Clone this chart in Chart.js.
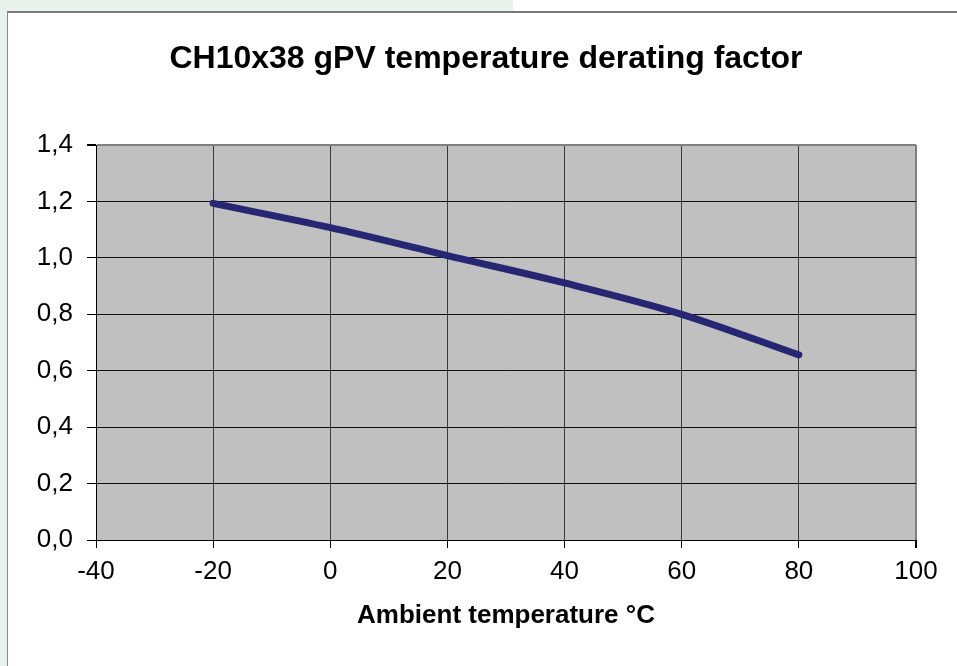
<!DOCTYPE html>
<html>
<head>
<meta charset="utf-8">
<script src="https://cdn.jsdelivr.net/npm/chart.js@4"></script>
<style>
  html, body { margin: 0; padding: 0; background: #e8f2ea; }
  #wrap { position: absolute; left: 0; top: 0; width: 957px; height: 666px; }
</style>
</head>
<body>
<div id="wrap"><canvas id="chart" width="957" height="666"></canvas></div>
<script>
// values
const temperatures = [-20, 0, 20, 40, 60, 80];
const deratingFactors = [1.193, 1.107, 1.008, 0.911, 0.800, 0.656];
const xTicks = [-40, -20, 0, 20, 40, 60, 80, 100];
const yTicks = [0, 0.2, 0.4, 0.6, 0.8, 1.0, 1.2, 1.4];

const FONT = "'Liberation Sans', Arial, sans-serif";

// page frame + gray plot background
const framePlugin = {
  id: 'frame',
  afterLayout(chart) {
    // title is centred on the whole sheet, not on the padded box
    if (chart.titleBlock) chart.titleBlock.left += 26;
  },
  beforeDraw(chart) {
    const { ctx, width, height, chartArea } = chart;
    ctx.save();
    ctx.fillStyle = '#ffffff';
    ctx.fillRect(0, 0, width, height);
    ctx.fillStyle = '#e8f2ea';
    ctx.fillRect(0, 0, 513, 11);
    ctx.fillRect(0, 0, 7, height);
    ctx.strokeStyle = '#7a7a7a';
    ctx.lineWidth = 2;
    ctx.beginPath();
    ctx.moveTo(7, 12);
    ctx.lineTo(width, 12);
    ctx.stroke();
    ctx.strokeStyle = '#8a8a8a';
    ctx.lineWidth = 1;
    ctx.beginPath();
    ctx.moveTo(7.5, 12);
    ctx.lineTo(7.5, height);
    ctx.stroke();
    ctx.fillStyle = '#c0c0c0';
    ctx.fillRect(chartArea.left, chartArea.top, chartArea.right - chartArea.left, chartArea.bottom - chartArea.top);
    ctx.restore();
  }
};

new Chart(document.getElementById('chart').getContext('2d'), {
  type: 'scatter',
  data: {
    datasets: [{
      data: temperatures.map((t, i) => ({ x: t, y: deratingFactors[i] })),
      showLine: true,
      borderColor: '#262673',
      borderWidth: 7,
      borderCapStyle: 'round',
      pointRadius: 0,
      cubicInterpolationMode: 'monotone',
      fill: false
    }]
  },
  options: {
    responsive: false,
    animation: false,
    layout: { padding: { left: 30, right: 41, top: 0, bottom: 0 } },
    plugins: {
      legend: { display: false },
      tooltip: { enabled: false },
      title: {
        display: true,
        text: 'CH10x38 gPV temperature derating factor',
        color: '#000',
        font: { family: FONT, size: 32, weight: 'bold' },
        padding: { top: 40, bottom: 66.6 }
      }
    },
    scales: {
      x: {
        type: 'linear',
        min: -40,
        max: 100,
        afterFit: s => { s.height = 126; },
        afterBuildTicks: s => { s.ticks = xTicks.map(v => ({ value: v })); },
        ticks: {
          color: '#000',
          padding: 8,
          maxRotation: 0,
          font: { family: FONT, size: 26 },
          callback: v => String(v)
        },
        grid: {
          color: c => c.tick && c.tick.value === 100 ? '#808080' : '#3a3a3a',
          lineWidth: c => c.tick && c.tick.value === 100 ? 2 : 1,
          tickColor: '#000',
          tickLength: 8
        },
        border: { display: true, color: '#000', width: 1 },
        title: {
          display: true,
          text: 'Ambient temperature °C',
          color: '#000',
          font: { family: FONT, size: 26, weight: 'bold' },
          padding: { top: 0, bottom: 34.4 }
        }
      },
      y: {
        type: 'linear',
        min: 0,
        max: 1.4,
        afterFit: s => { s.width = 66; },
        afterBuildTicks: s => { s.ticks = yTicks.map(v => ({ value: v })); },
        ticks: {
          color: '#000',
          padding: 14,
          font: { family: FONT, size: 26 },
          callback: v => Number(v).toFixed(1).replace('.', ',')
        },
        grid: {
          color: c => c.tick && Math.abs(c.tick.value - 1.4) < 1e-6 ? '#808080' : '#111',
          lineWidth: c => c.tick && Math.abs(c.tick.value - 1.4) < 1e-6 ? 2 : 1,
          tickColor: '#000',
          tickLength: 9
        },
        border: { display: true, color: '#000', width: 1 }
      }
    }
  },
  plugins: [framePlugin]
});
</script>
</body>
</html>
